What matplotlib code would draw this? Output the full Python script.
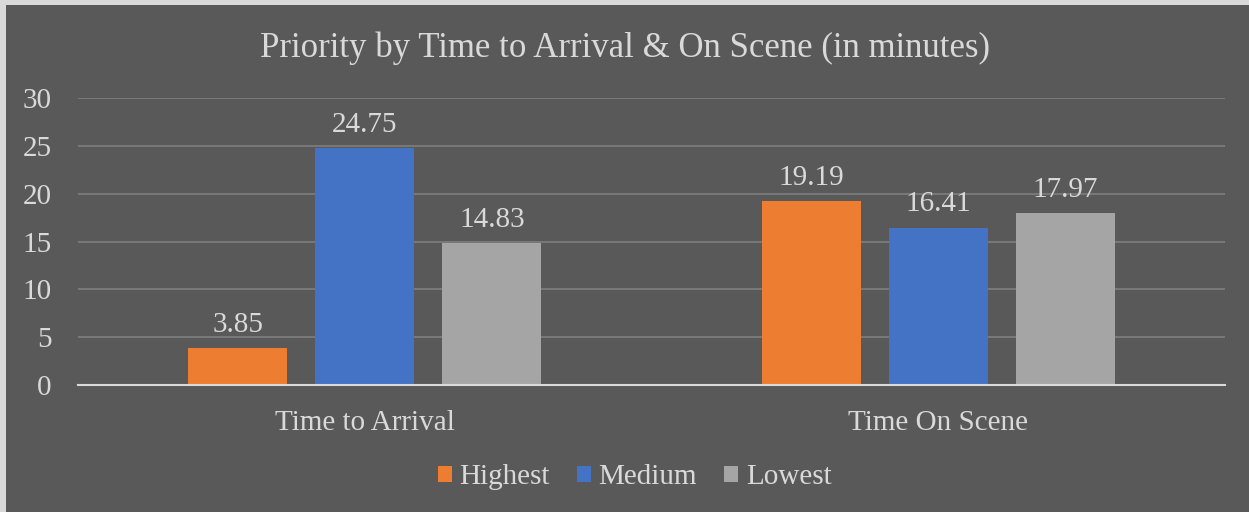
import matplotlib.pyplot as plt
import matplotlib.patches as mpatches
import numpy as np

categories = ["Time to Arrival", "Time On Scene"]
series = ["Highest", "Medium", "Lowest"]
highest = [3.85, 19.19]
medium = [24.75, 16.41]
lowest = [14.83, 17.97]
yticks = [0, 5, 10, 15, 20, 25, 30]

colors = ["#ED7D31", "#4472C4", "#A5A5A5"]
bg = "#595959"
txt = "#D9D9D9"
fs = 21

plt.rcParams["font.family"] = ["Liberation Serif", "DejaVu Serif"]

fig = plt.figure(figsize=(12.49, 5.12), dpi=100, facecolor="#D9D9D9")
# dark chart area inside a thin light frame
fig.patches.append(mpatches.Rectangle((6 / 1249, 0), 1, 1 - 5 / 512,
                                      transform=fig.transFigure, facecolor=bg,
                                      edgecolor="none", zorder=-1))

ax = fig.add_axes([78 / 1249, 1 - 385 / 512, (1225 - 78) / 1249, (385 - 98) / 512])
ax.set_facecolor(bg)

x = np.arange(len(categories))
width = 0.173
step = 0.2215
for i, (name, vals) in enumerate(zip(series, [highest, medium, lowest])):
    pos = x + (i - 1) * step
    ax.bar(pos, vals, width, color=colors[i], label=name, zorder=3)
    for px, v in zip(pos, vals):
        ax.text(px, v + 1.1, f"{v:.2f}", ha="center", va="bottom",
                color=txt, fontsize=fs, zorder=4)

ax.set_xlim(-0.5, 1.5)
ax.set_ylim(0, 30)
ax.set_yticks(yticks)
ax.set_xticks(x)
ax.set_xticklabels(categories)
ax.tick_params(axis="both", length=0, colors=txt, labelsize=fs)
ax.tick_params(axis="y", pad=19)
ax.tick_params(axis="x", pad=18)
ax.grid(axis="y", color="#7F7F7F", linewidth=1.2, zorder=1)
for s in ["top", "right", "left"]:
    ax.spines[s].set_visible(False)
ax.spines["bottom"].set_color(txt)
ax.spines["bottom"].set_linewidth(1.5)
ax.spines["bottom"].set_zorder(5)

fig.text(0.5, 1 - 48 / 512, "Priority by Time to Arrival & On Scene (in minutes)",
         ha="center", va="center", color=txt, fontsize=25)

fig.legend(loc="center", bbox_to_anchor=(0.508, 1 - 477 / 512), ncol=3,
           frameon=False, fontsize=fs, labelcolor=txt, handlelength=0.48,
           handleheight=0.48, handletextpad=0.25, columnspacing=0.95)

fig.savefig("out.png", dpi=100, facecolor=fig.get_facecolor())
